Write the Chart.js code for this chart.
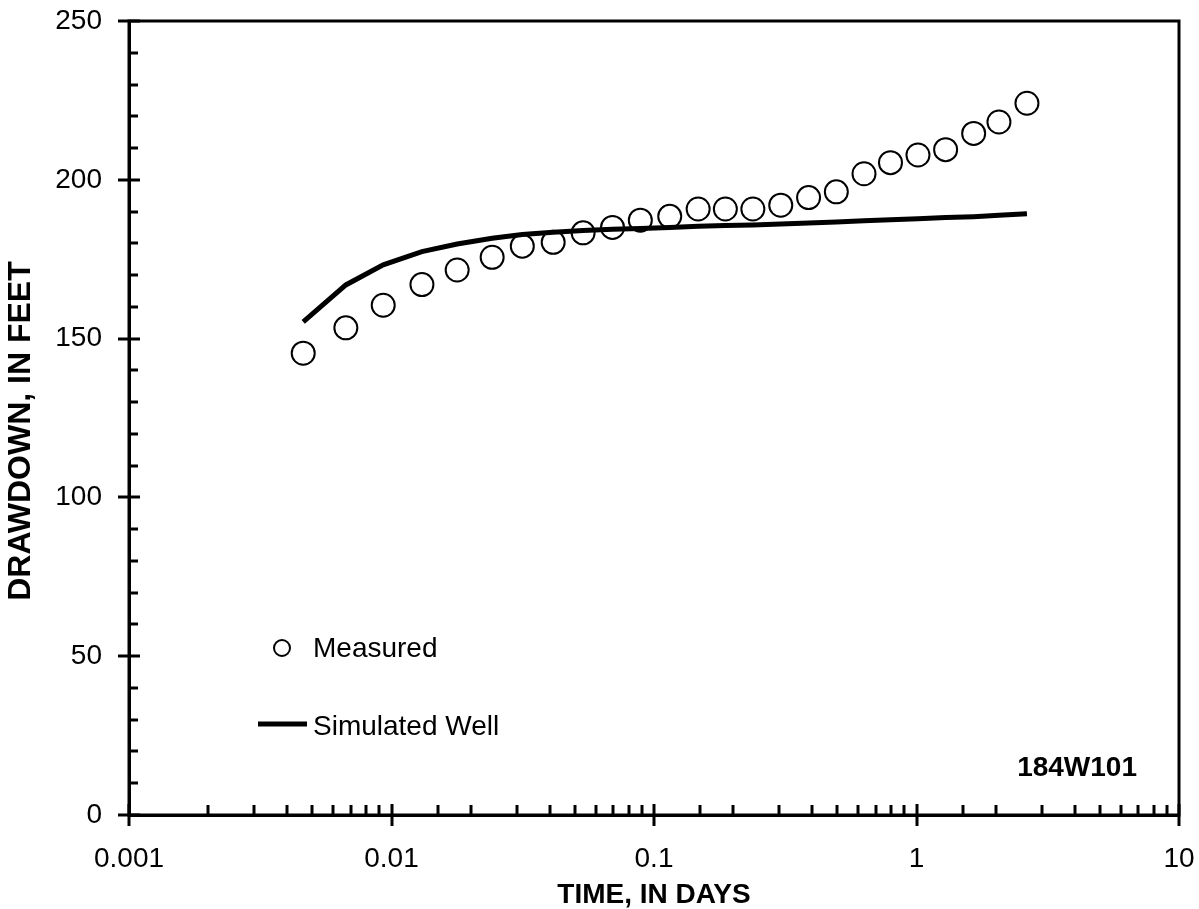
<!DOCTYPE html>
<html>
<head>
<meta charset="utf-8">
<script src="https://cdn.jsdelivr.net/npm/chart.js@4/dist/chart.umd.min.js"></script>
<style>
  html, body { margin: 0; padding: 0; background: #fff; }
  #wrap { width: 1199px; height: 909px; }
</style>
</head>
<body>
<div id="wrap"><canvas id="c" width="1199" height="909"></canvas></div>
<script>
// ---- data ----
const timeDays = [0.00461, 0.0067, 0.0093, 0.01306, 0.01779, 0.02418, 0.0315, 0.0413, 0.0537, 0.0695,
  0.0887, 0.1148, 0.1473, 0.187, 0.238, 0.304, 0.388, 0.495, 0.631, 0.796,
  1.013, 1.291, 1.651, 2.061, 2.635];
const measured = [145.4, 153.4, 160.5, 167.0, 171.6, 175.6, 179.1, 180.3, 183.3, 185.0,
  187.3, 188.5, 190.8, 190.8, 190.8, 192.0, 194.4, 196.2, 201.9, 205.4,
  207.8, 209.5, 214.6, 218.2, 224.1];
const simulated = [155.3, 166.9, 173.2, 177.4, 179.8, 181.6, 182.8, 183.5, 184.0, 184.4,
  184.7, 185.0, 185.4, 185.6, 185.8, 186.1, 186.4, 186.7, 187.1, 187.4,
  187.7, 188.1, 188.4, 188.8, 189.3];
const xTickLabels = ['0.001', '0.01', '0.1', '1', '10'];
const yTickLabels = ['0', '50', '100', '150', '200', '250'];
const seriesNames = ['Measured', 'Simulated Well'];
const wellName = '184W101';
const xTitle = 'TIME, IN DAYS';
const yTitle = 'DRAWDOWN, IN FEET';

const FONT = '"Liberation Sans", Arial, sans-serif';

function isPow10(v) {
  const l = Math.log10(v);
  return Math.abs(l - Math.round(l)) < 1e-6;
}

const decorPlugin = {
  id: 'decor',
  afterDraw(chart) {
    const ctx = chart.ctx;
    const a = chart.chartArea;
    const xs = chart.scales.x, ys = chart.scales.y;
    ctx.save();
    ctx.strokeStyle = '#000';
    ctx.lineCap = 'butt';
    // frame
    ctx.lineWidth = 3;
    ctx.strokeRect(a.left, a.top, a.right - a.left, a.bottom - a.top);
    // y tick marks
    ys.ticks.forEach(t => {
      const p = Math.round(ys.getPixelForValue(t.value));
      const major = Math.abs(t.value % 50) < 1e-6;
      ctx.beginPath();
      ctx.moveTo(a.left - (major ? 11 : 0), p);
      ctx.lineTo(a.left + (major ? 11 : 9), p);
      ctx.stroke();
    });
    // x tick marks
    xs.ticks.forEach(t => {
      const p = Math.round(xs.getPixelForValue(t.value));
      const major = isPow10(t.value);
      ctx.beginPath();
      ctx.moveTo(p, a.bottom + (major ? 11 : 0));
      ctx.lineTo(p, a.bottom - (major ? 11 : 10));
      ctx.stroke();
    });
    // y axis title
    ctx.fillStyle = '#000';
    ctx.save();
    ctx.translate(21, (a.top + a.bottom) / 2 + 13);
    ctx.rotate(-Math.PI / 2);
    ctx.font = 'bold 32px ' + FONT;
    ctx.textAlign = 'center';
    ctx.textBaseline = 'middle';
    ctx.fillText(yTitle, 0, 0);
    ctx.restore();
    // legend
    ctx.font = '28px ' + FONT;
    ctx.textBaseline = 'middle';
    ctx.textAlign = 'left';
    ctx.lineWidth = 2;
    ctx.beginPath();
    ctx.arc(a.left + 153, a.top + 627, 8, 0, Math.PI * 2);
    ctx.stroke();
    ctx.fillText(seriesNames[0], a.left + 184, a.top + 628);
    ctx.lineWidth = 5;
    ctx.beginPath();
    ctx.moveTo(a.left + 129, a.top + 703);
    ctx.lineTo(a.left + 178, a.top + 703);
    ctx.stroke();
    ctx.fillText(seriesNames[1], a.left + 184, a.top + 706);
    // well label
    ctx.font = 'bold 28px ' + FONT;
    ctx.textAlign = 'right';
    ctx.fillText(wellName, a.right - 42, a.top + 747);
    ctx.restore();
  }
};

new Chart(document.getElementById('c'), {
  type: 'scatter',
  data: {
    datasets: [
      {
        label: seriesNames[1],
        type: 'line',
        data: timeDays.map((t, i) => ({ x: t, y: simulated[i] })),
        borderColor: '#000',
        borderWidth: 5,
        pointRadius: 0,
        tension: 0,
        fill: false,
        order: 0
      },
      {
        label: seriesNames[0],
        data: timeDays.map((t, i) => ({ x: t, y: measured[i] })),
        pointStyle: 'circle',
        pointRadius: 11.5,
        pointHoverRadius: 11.5,
        borderColor: '#000',
        borderWidth: 2,
        backgroundColor: 'rgba(255,255,255,0)',
        order: 1
      }
    ]
  },
  options: {
    responsive: false,
    animation: false,
    devicePixelRatio: 1,
    layout: { padding: { top: 21, right: 20, left: 0, bottom: 0 } },
    plugins: { legend: { display: false }, tooltip: { enabled: false } },
    scales: {
      x: {
        type: 'logarithmic',
        min: 0.001,
        max: 10,
        afterFit(s) { s.height = 94; s.paddingLeft = 0; s.paddingRight = 0; },
        border: { display: true, color: '#000', width: 3 },
        grid: { display: true, drawOnChartArea: false, drawTicks: false },
        ticks: {
          autoSkip: false,
          maxRotation: 0,
          padding: 27,
          color: '#000',
          font: { family: FONT, size: 28 },
          callback(v) {
            if (!isPow10(v)) return '';
            return xTickLabels[Math.round(Math.log10(v)) + 3];
          }
        },
        title: {
          display: true,
          text: xTitle,
          color: '#000',
          padding: 0,
          font: { family: FONT, size: 28, weight: 'bold', lineHeight: 1.0 }
        }
      },
      y: {
        type: 'linear',
        min: 0,
        max: 250,
        afterFit(s) { s.width = 129; s.paddingTop = 0; s.paddingBottom = 0; },
        border: { display: true, color: '#000', width: 3 },
        grid: { display: true, drawOnChartArea: false, drawTicks: false },
        ticks: {
          stepSize: 10,
          autoSkip: false,
          padding: 27,
          color: '#000',
          font: { family: FONT, size: 28 },
          callback(v) {
            if (Math.abs(v % 50) > 1e-6) return '';
            return yTickLabels[Math.round(v / 50)];
          }
        },
        title: { display: false }
      }
    }
  },
  plugins: [decorPlugin]
});
</script>
</body>
</html>
